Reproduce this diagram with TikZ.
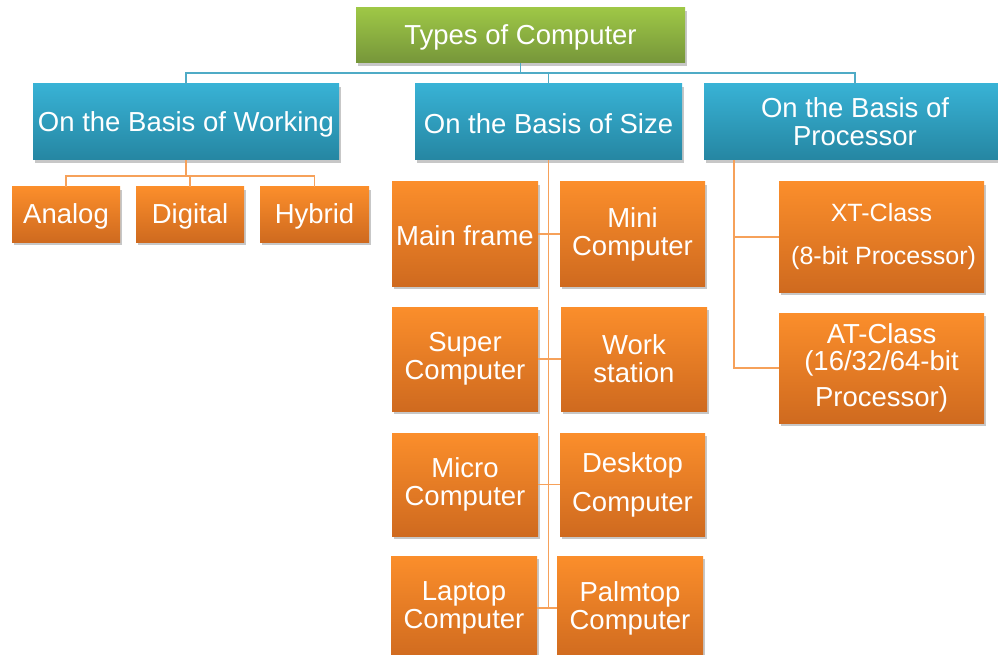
\documentclass[tikz,border=0pt]{standalone}
\usepackage{fontspec}
\setmainfont{Liberation Sans}
\usetikzlibrary{shadows}
\definecolor{grT}{HTML}{9EC746}
\definecolor{grB}{HTML}{76963A}
\definecolor{tlT}{HTML}{38B2D5}
\definecolor{tlB}{HTML}{2586A2}
\definecolor{orT}{HTML}{FB8E2B}
\definecolor{orB}{HTML}{CF6A1F}
\definecolor{tline}{HTML}{4FABC6}
\definecolor{oline}{HTML}{F6A15A}
\begin{document}
\begin{tikzpicture}[x=1pt,y=-1pt,
  basebox/.style={rectangle, inner sep=0pt, align=center, text=white,
    font=\fontsize{27.5}{28}\selectfont,
    execute at begin node={\rule{0pt}{24pt}},
    drop shadow={shadow xshift=2pt, shadow yshift=-3pt, opacity=0.22, fill=black}},
  rootbox/.style={basebox, top color=grT, bottom color=grB},
  catbox/.style={basebox, top color=tlT, bottom color=tlB},
  leafbox/.style={basebox, top color=orT, bottom color=orB},
  tl/.style={draw=tline, line width=1.8pt},
  ol/.style={draw=oline, line width=1.8pt}]
\useasboundingbox (0,0) rectangle (998,655);

% root
\node[rootbox, minimum width=329pt, minimum height=55pt] (root) at (520.5,35.5) {Types of Computer};

% categories
\node[catbox, minimum width=306pt, minimum height=76pt] (work) at (186,122) {On the Basis of Working};
\node[catbox, minimum width=267pt, minimum height=76pt] (size) at (548.5,122) {On the Basis of Size};
\node[catbox, minimum width=302pt, minimum height=76pt] (proc) at (855,122) {On the Basis of\\Processor};

% working children
\node[leafbox, minimum width=108pt, minimum height=55pt] (analog) at (66,214.5) {Analog};
\node[leafbox, minimum width=108pt, minimum height=55pt] (digital) at (190,214.5) {Digital};
\node[leafbox, minimum width=109pt, minimum height=55pt] (hybrid) at (314.5,214.5) {Hybrid};

% size children
\node[leafbox, minimum width=146pt, minimum height=104pt] (mainframe) at (465,234) {Main frame};
\node[leafbox, minimum width=145pt, minimum height=104pt] (mini) at (632.5,234) {Mini\\Computer};
\node[leafbox, minimum width=146pt, minimum height=104pt] (super) at (465,359) {Super\\Computer};
\node[leafbox, minimum width=146pt, minimum height=104pt] (workst) at (634,359) {Work\\station};
\node[leafbox, minimum width=146pt, minimum height=103pt] (micro) at (465,484.5) {Micro\\Computer};
\node[leafbox, minimum width=145pt, minimum height=103pt] (desktop) at (632.5,484.5) {Desktop\\[11pt]Computer};
\node[leafbox, minimum width=146pt, minimum height=104pt] (laptop) at (464,608) {Laptop\\Computer};
\node[leafbox, minimum width=146pt, minimum height=104pt] (palmtop) at (630,608) {Palmtop\\Computer};

% processor children
\node[leafbox, minimum width=205pt, minimum height=110pt, font=\fontsize{25}{28}\selectfont] (xt) at (881.5,237) {XT-Class\\[15pt]\,(8-bit Processor)};
\node[leafbox, minimum width=205pt, minimum height=110pt, font=\fontsize{27.5}{27}\selectfont] (at) at (881.5,368) {AT-Class\\(16/32/64-bit\\[9pt]Processor)};

% teal connectors
\coordinate (tbus) at (520.5,73);
\draw[tl] (root.south) -- (tbus);
\foreach \n in {work,size,proc} \draw[tl] (tbus) -| (\n.north);

% working connectors
\coordinate (obus) at (186,176);
\draw[ol] (work.south) -- (obus);
\foreach \n in {analog,digital,hybrid} \draw[ol] (obus) -| (\n.north);

% size connectors
\coordinate (sbot) at (size.south |- laptop.east);
\draw[ol] (size.south) -- (sbot);
\draw[ol] (mainframe.east) -- (mini.west);
\draw[ol] (super.east) -- (workst.west);
\draw[ol] (micro.east) -- (desktop.west);
\draw[ol] (laptop.east) -- (palmtop.west);

% processor connectors
\coordinate (ptop) at (734,160);
\draw[ol] (ptop) |- (at.west);
\draw[ol] (ptop |- xt.west) -- (xt.west);
\end{tikzpicture}
\end{document}
